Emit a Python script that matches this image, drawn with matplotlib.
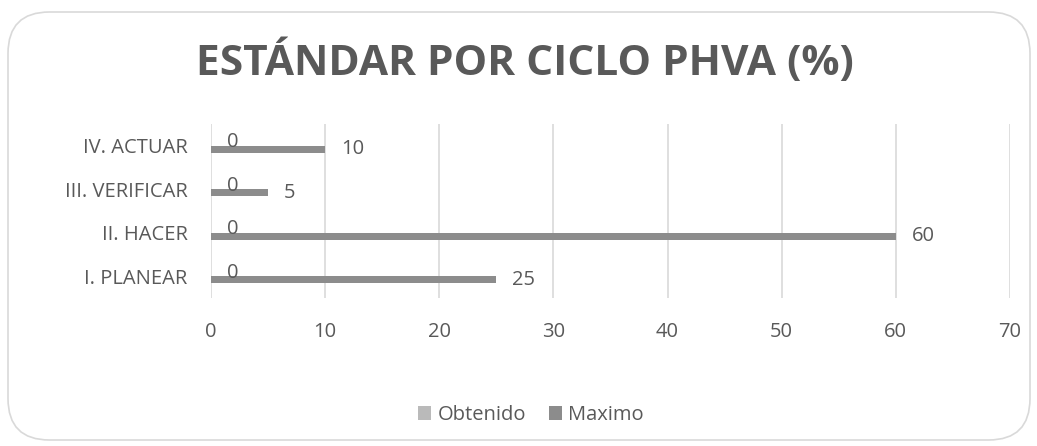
import numpy as np
import matplotlib.pyplot as plt
from matplotlib.patches import FancyBboxPatch, Patch

plt.rcParams['font.family'] = ['Open Sans', 'DejaVu Sans']

# Data
categorias = ["I. PLANEAR", "II. HACER", "III. VERIFICAR", "IV. ACTUAR"]
obtenido = [0, 0, 0, 0]
maximo = [25, 60, 5, 10]

texto = '#595959'
c_obt = '#bababa'
c_max = '#8c8c8c'
fs = 14.5

fig = plt.figure(figsize=(10.37, 4.46), dpi=100)

# Rounded chart border
borde = FancyBboxPatch((8 / 1037, 6 / 446), 1022 / 1037, 428 / 446,
                       boxstyle="round,pad=0,rounding_size=0.04",
                       transform=fig.transFigure, facecolor='white',
                       edgecolor='#d9d9d9', linewidth=1.2,
                       mutation_aspect=1037 / 446, zorder=-1)
fig.patches.append(borde)

ax = fig.add_axes([211 / 1037, 1 - 298 / 446, 799 / 1037, 174 / 446])
ax.set_facecolor('none')

y = np.arange(len(categorias))
h = 0.165
ax.barh(y + h / 2, obtenido, height=h, color=c_obt, label='Obtenido', zorder=3)
ax.barh(y - h / 2, maximo, height=h, color=c_max, label='Maximo', zorder=3)

# Data labels
for yi, v in zip(y, obtenido):
    ax.annotate(str(v), (v, yi + h / 2), xytext=(16, 0), textcoords='offset pixels',
                ha='left', va='center', fontsize=fs, color=texto, zorder=4)
for yi, v in zip(y, maximo):
    ax.annotate(str(v), (v, yi - h / 2), xytext=(16, 0), textcoords='offset pixels',
                ha='left', va='center', fontsize=fs, color=texto, zorder=4)

ax.set_xlim(0, 70)
ax.set_ylim(-0.5, 3.5)
ax.set_xticks(np.arange(0, 71, 10))
ax.set_yticks(y)
ax.set_yticklabels(categorias)
ax.grid(axis='x', color='#d9d9d9', linewidth=1.2, zorder=0)
for s in ax.spines.values():
    s.set_visible(False)
ax.tick_params(axis='both', length=0, labelsize=fs, labelcolor=texto)
ax.tick_params(axis='x', pad=17)
ax.tick_params(axis='y', pad=17)

fig.text(0.5 + 6 / 1037, 1 - 63 / 446, "ESTÁNDAR POR CICLO PHVA (%)", ha='center', va='center',
         fontsize=30.5, fontweight='bold', color=texto)

handles = [Patch(facecolor=c_obt, label='Obtenido'), Patch(facecolor=c_max, label='Maximo')]
fig.legend(handles=handles, loc='center', bbox_to_anchor=(531 / 1037, 1 - 415 / 446),
           ncol=2, frameon=False, fontsize=fs, labelcolor=texto,
           handlelength=0.65, handleheight=0.65, handletextpad=0.3, columnspacing=1.15)

fig.savefig('out.png', dpi=100)
